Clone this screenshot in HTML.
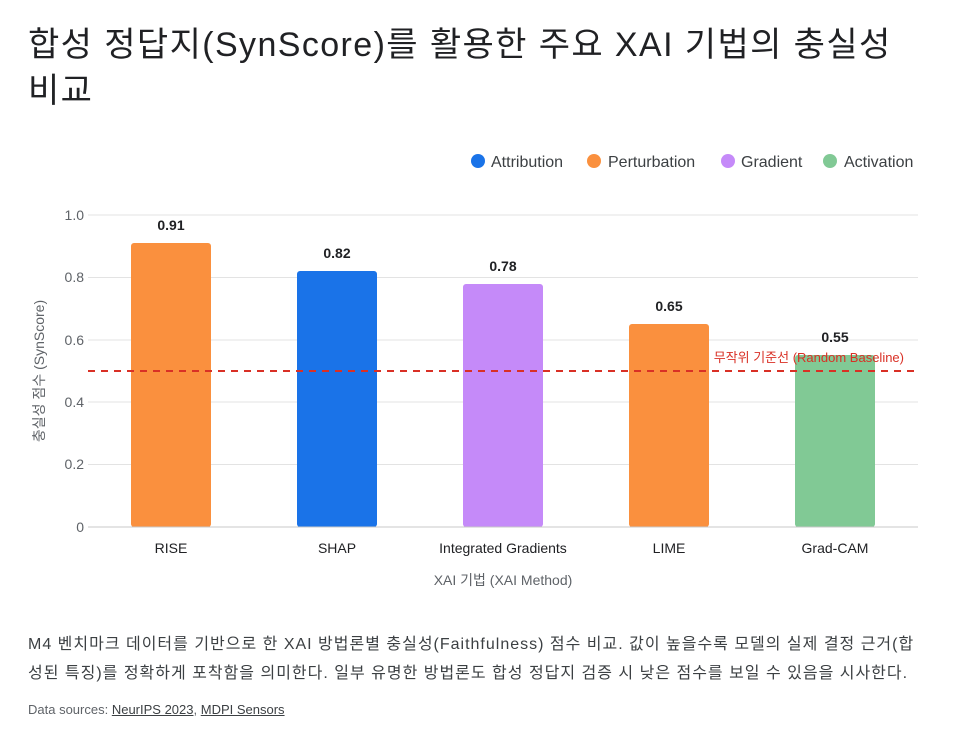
<!DOCTYPE html>
<html><head><meta charset="utf-8"><style>
body{margin:0;background:#fff;width:958px;height:735px;overflow:hidden;font-family:"Liberation Sans","Noto Sans CJK KR",sans-serif;}
.t{position:absolute;left:28px;top:22px;font-size:34px;letter-spacing:1.4px;line-height:46px;color:#202124;width:920px}
.d{position:absolute;left:28px;top:630px;font-size:16px;letter-spacing:1px;line-height:29px;color:#3c4043;width:930px;white-space:nowrap}
.s{position:absolute;left:28px;top:702px;font-size:13px;color:#5f6368}
.s u{color:#3c4043}
</style></head><body>
<div class="t">합성 정답지(SynScore)를 활용한 주요 XAI 기법의 충실성<br>비교</div>
<svg width="958" height="735" style="position:absolute;left:0;top:0" font-family="Liberation Sans, Noto Sans CJK KR, sans-serif">
<g font-size="16" fill="#3c4043">
<circle cx="478" cy="161" r="7" fill="#1a73e8"/><text x="491" y="167">Attribution</text>
<circle cx="594" cy="161" r="7" fill="#fa903e"/><text x="608" y="167">Perturbation</text>
<circle cx="728" cy="161" r="7" fill="#c58af9"/><text x="741" y="167">Gradient</text>
<circle cx="830" cy="161" r="7" fill="#81c995"/><text x="844" y="167">Activation</text>
</g>
<g stroke="#e3e3e3" stroke-width="1">
<line x1="88" x2="918" y1="215" y2="215"/><line x1="88" x2="918" y1="277.5" y2="277.5"/>
<line x1="88" x2="918" y1="340" y2="340"/><line x1="88" x2="918" y1="402" y2="402"/>
<line x1="88" x2="918" y1="464.5" y2="464.5"/>
</g>
<g font-size="14" fill="#5f6368" text-anchor="end">
<text x="84" y="220">1.0</text><text x="84" y="282">0.8</text><text x="84" y="345">0.6</text>
<text x="84" y="407">0.4</text><text x="84" y="469">0.2</text><text x="84" y="532">0</text>
</g>
<text transform="translate(44,371) rotate(-90)" font-size="14" fill="#5f6368" text-anchor="middle">충실성 점수 (SynScore)</text>
<g>
<rect x="131" y="243" width="80" height="284" rx="3" fill="#fa903e"/>
<rect x="297" y="271" width="80" height="256" rx="3" fill="#1a73e8"/>
<rect x="463" y="284" width="80" height="243" rx="3" fill="#c58af9"/>
<rect x="629" y="324" width="80" height="203" rx="3" fill="#fa903e"/>
<rect x="795" y="355" width="80" height="172" rx="3" fill="#81c995"/>
</g>
<line x1="88" x2="918" y1="527" y2="527" stroke="#c8c8c8"/>
<g font-size="14" font-weight="bold" fill="#202124" text-anchor="middle">
<text x="171" y="230">0.91</text><text x="337" y="258">0.82</text><text x="503" y="271">0.78</text>
<text x="669" y="311">0.65</text><text x="835" y="342">0.55</text>
</g>
<line x1="88" x2="918" y1="371" y2="371" stroke="#d93025" stroke-width="2" stroke-dasharray="7,6"/>
<text x="904" y="362" font-size="13" fill="#d93025" text-anchor="end">무작위 기준선 (Random Baseline)</text>
<g font-size="14" fill="#202124" text-anchor="middle">
<text x="171" y="553">RISE</text><text x="337" y="553">SHAP</text><text x="503" y="553">Integrated Gradients</text>
<text x="669" y="553">LIME</text><text x="835" y="553">Grad-CAM</text>
</g>
<text x="503" y="585" font-size="14" fill="#5f6368" text-anchor="middle">XAI 기법 (XAI Method)</text>
</svg>
<div class="d">M4 벤치마크 데이터를 기반으로 한 XAI 방법론별 충실성(Faithfulness) 점수 비교. 값이 높을수록 모델의 실제 결정 근거(합<br>성된 특징)를 정확하게 포착함을 의미한다. 일부 유명한 방법론도 합성 정답지 검증 시 낮은 점수를 보일 수 있음을 시사한다.</div>
<div class="s">Data sources: <u>NeurIPS 2023</u>, <u>MDPI Sensors</u></div>
</body></html>
